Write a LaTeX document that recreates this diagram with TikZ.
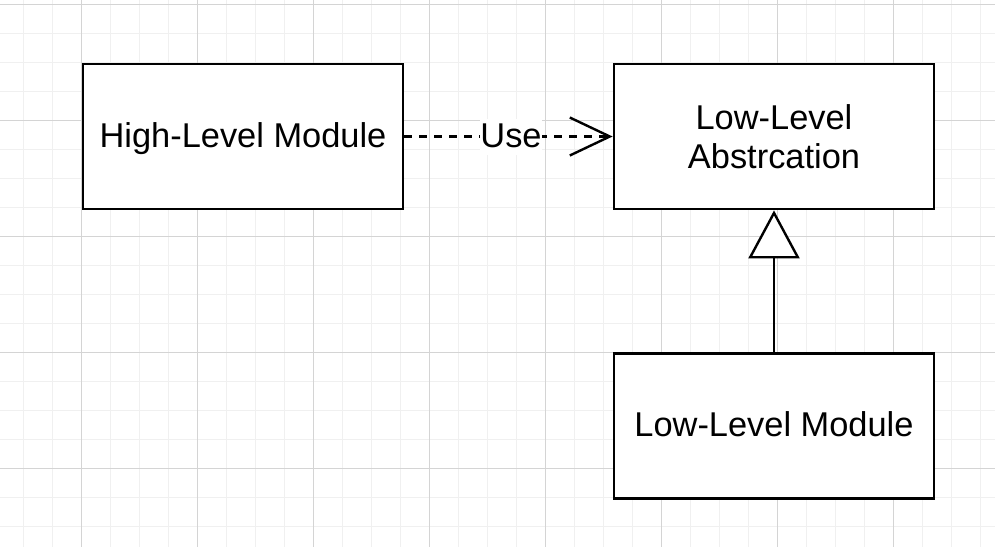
\documentclass[tikz,border=0pt]{standalone}
\usepackage{fontspec}
\setmainfont{Liberation Sans}
\usetikzlibrary{arrows.meta}
\definecolor{gridminor}{RGB}{240,240,240}
\definecolor{gridmajor}{RGB}{212,212,212}
\tikzset{
  module/.style = {draw, line width=1.4pt, fill=white,
                   minimum width=160pt, minimum height=72.5pt,
                   inner sep=0pt, align=center,
                   font=\fontsize{17.2pt}{19.5pt}\selectfont},
  oneline/.style = {text height=14.1pt, text depth=3.6pt},
  uselabel/.style = {fill=white, inner sep=0pt,
                     font=\fontsize{17.2pt}{19.5pt}\selectfont},
  usearrow/.style = {line width=1.2pt, dash pattern=on 4pt off 3.5pt,
                     -{Straight Barb[length=20pt, width=19pt, line width=1.2pt]}},
  inherit/.style = {line width=1.2pt,
                    -{Triangle[open, length=24pt, width=25.5pt, line width=1.2pt, fill=white]}}
}

\begin{document}
\begin{tikzpicture}[x=0.5pt, y=-0.5pt]
	\def \W{995}
	\def \H{547}
	\useasboundingbox (0,0) rectangle (\W,\H);
	\fill[white] (0,0) rectangle (\W,\H);

	% Grid
	\foreach \i in {-2,...,31} {
		\draw[gridminor, line width=0.5pt] (81+29*\i,0) -- (81+29*\i,\H);
		\draw[gridminor, line width=0.5pt] (0,4+29*\i) -- (\W,4+29*\i);
	}
	\foreach \i in {0,...,7} {
		\draw[gridmajor, line width=0.5pt] (81+116*\i,0) -- (81+116*\i,\H);
	}
	\foreach \i in {0,...,4} {
		\draw[gridmajor, line width=0.5pt] (0,4+116*\i) -- (\W,4+116*\i);
	}

	% Modules
	\node[module, oneline] (high) at (243,136.5) {High-Level Module};
	\node[module] (abs)  at (774,136.5) {Low-Level\\Abstrcation};
	\node[module, oneline] (low)  at (774,426) {Low-Level Module};

	% Use
	\draw[usearrow] (high.east) -- (abs.west);
	\node[uselabel, oneline] (use) at (511,137) {Use};

	% Realization
	\draw[inherit] (low.north) -- (abs.south);
\end{tikzpicture}
\end{document}
